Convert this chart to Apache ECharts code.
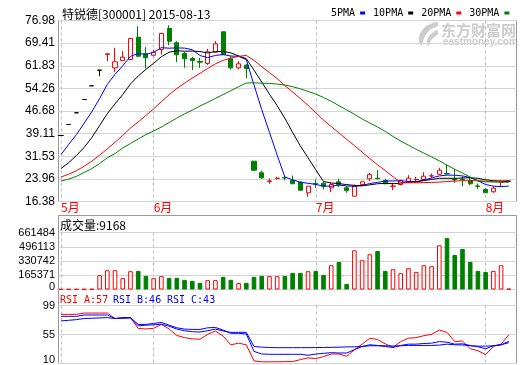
<!DOCTYPE html>
<html><head><meta charset="utf-8">
<script src="https://cdn.jsdelivr.net/npm/echarts@6/dist/echarts.min.js"></script>
<style>html,body{margin:0;padding:0;background:#fff}#c{width:520px;height:365px}</style>
</head><body><div id="c"></div>
<script>
const stockTitle = '特锐德[300001] 2015-08-13';
const volLabel = '成交量:9168';
const rsiLabels = ['RSI_A:57', 'RSI_B:46', 'RSI_C:43'];
const maNames = ['5PMA', '10PMA', '20PMA', '30PMA'];
const priceTicks = ['16.38','23.96','31.53','39.11','46.68','54.26','61.83','69.41','76.98'];
const volTicks = ['0','165371','330742','496113','661484'];
const rsiTicks = ['10','55','99'];

const dates = ['2015-05-14','2015-05-15','2015-05-18','2015-05-19','2015-05-20','2015-05-21','2015-05-22','2015-05-25','2015-05-26','2015-05-27','2015-05-28','2015-05-29',
'2015-06-01','2015-06-02','2015-06-03','2015-06-04','2015-06-05','2015-06-08','2015-06-09','2015-06-10','2015-06-11','2015-06-12','2015-06-15','2015-06-16','2015-06-17','2015-06-18','2015-06-19','2015-06-23','2015-06-24','2015-06-25','2015-06-26','2015-06-29','2015-06-30',
'2015-07-01','2015-07-02','2015-07-03','2015-07-06','2015-07-07','2015-07-09','2015-07-10','2015-07-13','2015-07-14','2015-07-15','2015-07-16','2015-07-17','2015-07-20','2015-07-21','2015-07-22','2015-07-23','2015-07-24','2015-07-27','2015-07-28','2015-07-29','2015-07-30','2015-07-31',
'2015-08-03','2015-08-04','2015-08-05','2015-08-06'];

const opens  = [38.48,42.16,46.08,50.53,55.12,60.34,65.6,61.14,63.57,63.92, 71.39,65.83,65.34,67.27,74.3,69.51,65.93,64.26,63.3,62.6, 66.37,73.2,64.15,61.14,62.02,29.87,25.99,23.1,24.1,24.4, 23.41,22.84,19.29,22.4,22.51,20.97,22.97,20.97,18.15,22.07, 23.98,24.2,23.41,21.45,22.07,23.08,23.7,23.75,24.9,25.5, 25.75,23.75,23.85,23.41,21.6,20.4,19.63,22.9,23.2];
const closes = [38.48,42.16,46.08,50.53,55.12,60.34,65.83,63.15,64.69,70.95, 65.03,64.49,66.35,72.63,70.05,65.5,64.15,63.6,63.0,66.5, 69.18,65.6,61.14,62.48,60.91,26.86,24.31,23.25,24.2,24.25, 22.31,20.16,21.5,22.25,21.5,22.07,22.07,20.06,21.5,22.97, 25.42,24.0,22.31,21.55,23.41,24.18,23.8,24.85,25.0,26.86, 25.6,23.6,23.7,22.31,21.45,19.29,20.83,22.97,23.2];
const lows   = [38.48,42.16,46.08,50.53,55.12,58.3,63.35,59.8,63.35,63.92, 64.7,60.9,64.9,65.6,68.7,63.02,61.14,60.34,61.1,62.1, 66.2,65.3,60.6,60.6,57.6,26.5,23.98,22.3,23.75,23.5, 22.2,20.16,17.95,20.97,20.4,19.5,21.17,19.3,18.15,21.5, 23.18,23.75,22.3,20.16,21.73,22.64,22.84,23.5,24.18,25.2, 25.3,22.64,21.5,21.85,20.63,19.29,19.29,21.3,23.2];
const highs  = [38.48,42.16,46.08,50.53,55.12,60.34,65.83,67.84,66.7,71.1, 75.07,68.04,67.2,72.9,75.4,70.05,66.5,64.83,64.5,67.5, 70.1,73.3,65.0,63.35,62.5,29.87,26.66,24.08,24.65,24.9, 25.08,23.18,21.5,23.75,22.84,22.64,23.98,21.5,22.07,23.18, 25.99,26.86,23.98,22.64,23.75,25.2,24.65,26.2,25.75,27.66, 28.77,27.3,24.85,24.3,22.4,20.83,21.5,22.97,23.2];

const ma5  = [32.1,35.5,38.8,42.6,46.47,50.85,55.58,58.99,61.83,64.99, 65.93,65.66,66.3,67.89,67.71,67.8,67.74,67.19,65.26,64.55, 65.29,65.58,65.08,64.98,63.86,55.4,47.14,39.56,31.91,24.57, 23.66,22.83,22.48,22.09,21.54,21.5,21.88,21.59,21.44,21.73, 22.4,22.79,23.24,23.25,23.34,23.09,23.05,23.56,24.25,24.94, 25.22,25.18,24.95,24.41,23.33,22.07,21.52,21.37,21.55];
const ma10 = [27.4,29.4,31.8,34.5,37.8,41.8,45.8,49.1,52.2,55.73, 58.39,60.62,62.65,64.86,66.35,66.87,66.7,66.75,66.58,66.13, 66.55,66.66,66.14,65.12,64.21,60.35,56.36,52.32,48.45,44.22, 39.53,34.99,31.02,27.0,23.06,22.58,22.36,22.04,21.77,21.64, 21.95,22.34,22.42,22.35,22.54,22.75,22.92,23.4,23.75,24.14, 24.16,24.12,24.26,24.33,24.14,23.65,23.35,23.16,22.98];
const ma20 = [24.6,25.5,26.7,28.2,29.9,31.9,34.0,36.2,38.5,41.0, 43.0,45.2,47.4,49.8,52.1,54.2,56.0,57.7,59.3,60.93, 62.47,63.64,64.4,64.99,65.28,63.61,61.53,59.54,57.52,55.18, 53.04,50.83,48.58,46.06,43.64,41.47,39.36,37.18,35.11,32.93, 30.74,28.67,26.72,24.68,22.8,22.67,22.64,22.72,22.76,22.89, 23.06,23.23,23.34,23.34,23.34,23.2,23.14,23.28,23.37];
const ma30 = [23.2,23.9,24.8,26.1,27.4,29.1,31.0,32.45,34.3,35.8, 37.3,38.8,40.0,41.3,42.8,44.3,45.7,47.0,48.35,49.6, 50.9,52.2,53.5,54.8,56.05,56.1,56.0,55.9,55.7,55.36, 54.82,54.09,53.27,52.33,51.21,49.94,48.47,47.04,45.6,44.0, 42.68,41.33,39.86,38.16,36.6,35.23,33.88,32.59,31.32,30.0, 28.55,27.15,25.9,24.56,23.25,22.99,22.88,22.87,22.84];

const volumes = [4200,3800,4500,5200,6000,166000,224000,224000,131600,212400, 215900,158100,131600,154700,135000,135000,112000,100400,77300,108500, 108500,146600,112000,73900,77300,146600,158100,154700,154700,158100, 192800,192800,212400,215900,169700,281700,319800,65800,454800,339400, 408700,446700,215900,235500,189300,247000,204300,281700,270100,512600, 596800,400600,469800,319800,215900,204300,215900,281700,9168];

const rsiA = [85.4,85.4,85.5,87.4,87.4,87.4,87.4,79,80,80.4, 63.8,63,64,70,63,53,49.7,47.7,47.3,54.7, 59.8,52,38.7,41.2,38.7,14,12.6,12.6,12.6,12.8, 13,16,18.6,17.6,20.6,24.6,24.6,21,31,39.7, 48.8,46.8,40.2,34.6,43.6,48.8,49.7,52.7,54.7,61.3, 57.8,43.6,44.6,32.6,29.6,23.6,36.1,39.7,54];
const rsiB = [82.4,82.4,82.4,84.4,84.4,84.4,84.4,79,80.4,80.4, 70,70,71.5,73,68.8,64.8,62.8,62.3,62.3,64.8, 65.3,61.3,56.3,56.3,55.3,28.6,24.6,24.1,24.1,24.1, 24.1,24.1,22.6,24.6,25.6,26.6,26.1,26.1,31.1,36.1, 38.7,37.7,36.1,34.6,37.7,39.7,39.7,40.7,41.2,43.6, 42.7,39.7,40.2,37.7,35.6,32.6,37.2,38.7,44];
const rsiC = [75.3,76.3,77.3,79,79.4,79.9,80.4,79,79.4,79.9, 67.8,68.8,69.3,70.3,67.3,62.8,60.3,58.8,58.3,60.3, 62.8,59.8,57.8,57.8,57.8,36.1,35.1,34.5,34.3,34.3, 34.3,34.3,34.3,34.5,34.6,34.8,35.1,35.4,35.6,36.1, 37.2,37.2,37.2,36.8,37.2,37.7,37.7,37.7,37.7,38.2, 39.7,38.7,38.4,37.2,36.6,36.6,37.2,38.7,42];

const RED = '#ff0000', GREEN = '#008000', BLUE = '#0000ff', BLACK = '#000000';
const FRAME = '#999999', GRIDC = '#d4d4d4', DASH = '#bdbdbd';
const MONO = '"DejaVu Sans Mono"';
const monthStart = dates.map((d, i) => i === 0 || d.slice(5, 7) !== dates[i - 1].slice(5, 7));

const L = 58.5, W = 458, DL = 61, DW = 447.8;
const panels = [
  { top: 20.5, height: 181 },
  { top: 232.5, height: 57 },
  { top: 305.5, height: 58 }
];

const grids = [], xAxes = [], yAxes = [];
const numFont = 'Liberation Sans';
const splitX = { show: true, interval: (i) => monthStart[i], lineStyle: { color: DASH, type: [3, 3], width: 1 } };
const frameTicks = [priceTicks, volTicks, rsiTicks];
const dataRanges = [[16.38, 76.98], [0, 661484], [10, 99]];
const labelSizes = [12, 11, 11];
const lowPad = [0, 6, 8];

panels.forEach((p, k) => {
  grids.push({ left: L, top: p.top, width: W, height: p.height, show: true, borderColor: FRAME, borderWidth: 1, containLabel: false, outerBoundsMode: 'none' });
  grids.push({ left: DL, top: p.top, width: DW, height: p.height, containLabel: false, outerBoundsMode: 'none' });
  xAxes.push({ gridIndex: 2 * k, type: 'value', show: false, min: 0, max: 1 });
  xAxes.push({
    gridIndex: 2 * k + 1, type: 'category', data: dates, boundaryGap: false,
    axisLine: { show: false }, axisTick: { show: false },
    axisLabel: k === 0 ? {
      show: true, interval: (i) => monthStart[i],
      formatter: (v) => (+v.slice(5, 7)) + '月',
      color: RED, fontSize: 12, fontFamily: 'Noto Sans CJK SC', margin: 0, align: 'left'
    } : { show: false },
    splitLine: splitX
  });
  const ticks = frameTicks[k];
  yAxes.push({
    gridIndex: 2 * k, type: 'value', min: 0, max: ticks.length - 1, interval: 1,
    axisLine: { show: false }, axisTick: { show: false },
    axisLabel: {
      show: k !== 2,
      color: '#000', fontSize: labelSizes[k], fontFamily: numFont, margin: 3.5,
      formatter: (v) => {
        const i = Math.round(v);
        return (i === 0 && lowPad[k] > 0) ? '{lo|' + ticks[0] + '}' : ticks[i];
      },
      rich: { lo: { color: '#000', fontSize: labelSizes[k], fontFamily: numFont, padding: [0, 0, lowPad[k], 0] } }
    },
    splitLine: { show: true, lineStyle: { color: GRIDC, width: 1 } }
  });
  yAxes.push({ gridIndex: 2 * k + 1, type: 'value', show: false, min: dataRanges[k][0], max: dataRanges[k][1], splitLine: { show: false } });
});

const candleData = dates.map((d, i) => [opens[i], closes[i], lows[i], highs[i]]);
const volData = volumes.map((v, i) => ({
  value: v,
  itemStyle: closes[i] >= opens[i]
    ? { color: '#ffffff', borderColor: RED, borderWidth: 1 }
    : { color: GREEN, borderColor: GREEN, borderWidth: 1 }
}));

const maColors = [BLUE, BLACK, RED, GREEN];
const maSeries = [ma5, ma10, ma20, ma30].map((arr, j) => ({
  type: 'line', name: maNames[j], xAxisIndex: 1, yAxisIndex: 1, data: arr,
  symbol: 'none', clip: false, lineStyle: { width: 1, color: maColors[j] },
  itemStyle: { color: maColors[j] }, z: 3
}));
const rsiColors = [RED, BLUE, BLUE];
const rsiSeries = [rsiA, rsiB, rsiC].map((arr, j) => ({
  type: 'line', name: rsiLabels[j], xAxisIndex: 5, yAxisIndex: 5, data: arr,
  symbol: 'none', clip: false, lineStyle: { width: 1, color: rsiColors[j] }, z: 3
}));

const rsiTop = panels[2].top, rsiH = panels[2].height;
const rsiLabelY = [rsiTop + rsiH - 4, rsiTop + rsiH / 2, rsiTop];

const chart = echarts.init(document.getElementById('c'), null, { renderer: 'canvas' });
chart.setOption({
  animation: false,
  backgroundColor: '#ffffff',
  title: {
    text: stockTitle, left: 62, top: 8, padding: 0,
    textStyle: { fontSize: 12, fontWeight: 'normal', color: '#000', fontFamily: 'Noto Sans CJK SC' }
  },
  legend: {
    data: maNames, left: 331, top: 8, width: 189, padding: 0, icon: 'rect', itemWidth: 5, itemHeight: 3,
    itemGap: 8, align: 'right', selectedMode: false,
    textStyle: { fontSize: 10, fontFamily: 'DejaVu Sans Mono', color: '#000' }
  },
  grid: grids, xAxis: xAxes, yAxis: yAxes,
  series: [
    {
      type: 'candlestick', xAxisIndex: 1, yAxisIndex: 1, data: candleData, barWidth: 4.6, clip: false,
      itemStyle: { color: '#ffffff', color0: GREEN, borderColor: RED, borderColor0: GREEN, borderColorDoji: BLACK, borderWidth: 1 },
      z: 2
    },
    ...maSeries,
    { type: 'bar', xAxisIndex: 3, yAxisIndex: 3, data: volData, barWidth: 4.6, clip: false },
    ...rsiSeries
  ],
  graphic: [
    { type: 'rect', silent: true, shape: { x: L, y: 215.5, width: W, height: 17 }, style: { fill: 'none', stroke: FRAME, lineWidth: 1 } },
    { type: 'rect', silent: true, shape: { x: L, y: 289.5, width: W, height: 16 }, style: { fill: 'none', stroke: FRAME, lineWidth: 1 } },
    { type: 'text', silent: true, x: 60, y: 225.5, style: { text: volLabel, font: '12px "Noto Sans CJK SC"', fill: '#000', verticalAlign: 'middle' } },
    { type: 'text', silent: true, x: 60, y: 300, style: { text: rsiLabels[0], font: '10px ' + MONO, fill: RED, verticalAlign: 'middle' } },
    { type: 'text', silent: true, x: 113, y: 300, style: { text: rsiLabels[1], font: '10px ' + MONO, fill: BLUE, verticalAlign: 'middle' } },
    { type: 'text', silent: true, x: 167, y: 300, style: { text: rsiLabels[2], font: '10px ' + MONO, fill: BLUE, verticalAlign: 'middle' } },
    ...rsiTicks.map((t, i) => ({ type: 'text', silent: true, x: 55, y: rsiLabelY[i], style: { text: t, font: '11px "Liberation Sans"', fill: '#000', align: 'right', verticalAlign: 'middle' } })),
    { type: 'polygon', silent: true, z: -1, shape: { points: [[437, 22], [425, 27], [419, 37], [421, 46], [425, 36], [431, 29], [438, 26]], smooth: 0.3 }, style: { fill: '#cccccc' } },
    { type: 'polygon', silent: true, z: -1, shape: { points: [[437, 30], [430, 35], [427, 41], [428, 46], [432, 39], [438, 34]], smooth: 0.3 }, style: { fill: '#cccccc' } },
    { type: 'text', silent: true, z: -1, x: 441, y: 30, style: { text: '东方财富网', font: 'bold 15px "Noto Sans CJK SC"', fill: '#cccccc', verticalAlign: 'middle' } },
    { type: 'text', silent: true, z: -1, x: 443, y: 42.5, style: { text: 'eastmoney.com', font: 'bold 10px "Liberation Sans"', fill: '#cccccc', verticalAlign: 'middle' } }
  ]
});
</script></body></html>
